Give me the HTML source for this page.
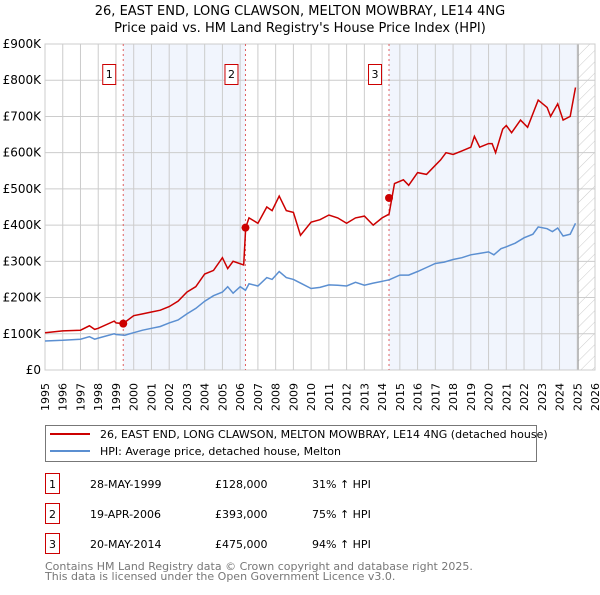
<!DOCTYPE html>
<html><head><meta charset="utf-8"><style>
body{margin:0;background:#fff;}
svg text{font-family:"DejaVu Sans","Liberation Sans",sans-serif;}
</style></head><body>
<svg id="c" width="600" height="590" xmlns="http://www.w3.org/2000/svg">
<defs><pattern id="hatch" width="8" height="8" patternUnits="userSpaceOnUse" patternTransform="rotate(45)"><line x1="0" y1="0" x2="0" y2="8" stroke="#ccc" stroke-width="1"/></pattern></defs>
<text x="300" y="15" text-anchor="middle" font-size="13">26, EAST END, LONG CLAWSON, MELTON MOWBRAY, LE14 4NG</text>
<text x="300" y="32" text-anchor="middle" font-size="13">Price paid vs. HM Land Registry's House Price Index (HPI)</text>
<g id="plot"></g>
<g>
<rect x="45.5" y="425.5" width="491" height="36" fill="#fff" stroke="#777"/>
<line x1="50" y1="434" x2="90" y2="434" stroke="#cc0000" stroke-width="2"/>
<text x="100" y="438" font-size="11">26, EAST END, LONG CLAWSON, MELTON MOWBRAY, LE14 4NG (detached house)</text>
<line x1="50" y1="451" x2="90" y2="451" stroke="#5b8fd1" stroke-width="2"/>
<text x="100" y="455" font-size="11">HPI: Average price, detached house, Melton</text>
</g>
<g id="table" font-size="11"></g>
<text x="45" y="570" font-size="11" fill="#777">Contains HM Land Registry data © Crown copyright and database right 2025.</text>
<text x="45" y="580" font-size="11" fill="#777">This data is licensed under the Open Government Licence v3.0.</text>
</svg>
<script>
const yTicks=[0,100,200,300,400,500,600,700,800,900];
const yTickLabels=["£0","£100K","£200K","£300K","£400K","£500K","£600K","£700K","£800K","£900K"];
const xYears=[1995,1996,1997,1998,1999,2000,2001,2002,2003,2004,2005,2006,2007,2008,2009,2010,2011,2012,2013,2014,2015,2016,2017,2018,2019,2020,2021,2022,2023,2024,2025,2026];
const hpiT=[1995,1996,1997,1997.5,1997.8,1998,1998.9,1999,1999.5,2000,2000.5,2001,2001.5,2002,2002.5,2003,2003.5,2004,2004.5,2005,2005.3,2005.6,2006,2006.3,2006.5,2007,2007.5,2007.8,2008.2,2008.6,2009,2009.4,2010,2010.5,2011,2011.5,2012,2012.5,2013,2013.5,2014,2014.4,2015,2015.5,2016,2016.5,2017,2017.5,2018,2018.5,2019,2019.5,2020,2020.3,2020.7,2021,2021.5,2022,2022.5,2022.8,2023.3,2023.6,2023.9,2024.2,2024.6,2024.9];
const hpiV=[80,82,85,92,85,88,100,98,96,103,110,115,120,130,138,155,170,190,205,215,230,212,230,220,238,232,255,250,272,255,250,240,225,228,235,234,232,242,234,240,245,249,262,262,272,283,294,298,305,310,318,322,326,318,335,340,350,365,375,395,390,382,392,370,375,405];
const redT=[1995,1996,1997,1997.5,1997.8,1998,1998.9,1999,1999.4,2000,2000.5,2001,2001.5,2002,2002.5,2003,2003.5,2004,2004.5,2005,2005.3,2005.6,2006.2,2006.31,2006.5,2007,2007.5,2007.8,2008.2,2008.6,2009,2009.4,2010,2010.5,2011,2011.5,2012,2012.5,2013,2013.5,2014,2014.39,2014.7,2015.2,2015.5,2016,2016.5,2017,2017.3,2017.6,2018,2018.5,2019,2019.2,2019.5,2020,2020.2,2020.4,2020.8,2021,2021.3,2021.8,2022.2,2022.8,2023.3,2023.5,2023.9,2024.2,2024.6,2024.9];
const redV=[103,108,110,122,112,115,135,130,128,150,155,160,165,175,190,215,230,265,275,310,280,300,290,393,420,405,450,440,480,440,435,372,408,415,428,420,405,420,425,400,420,430,515,525,510,545,540,565,580,600,595,605,615,645,615,625,625,600,665,675,655,690,670,745,725,700,735,690,700,780];
const salesT=[1999.41,2006.3,2014.39];
const salesV=[128,393,475];
const salesLabels=["1","2","3"];
const salesDates=["28-MAY-1999","19-APR-2006","20-MAY-2014"];
const salesPrices=["£128,000","£393,000","£475,000"];
const salesPct=["31% ↑ HPI","75% ↑ HPI","94% ↑ HPI"];

const NS="http://www.w3.org/2000/svg";
const X0=45,X1=595,Y0=370,Y1=44;
const xs=t=>X0+(t-1995)/(2026-1995)*(X1-X0);
const ys=v=>Y0-v/900*(Y0-Y1);
const plot=document.getElementById('plot');
function mk(tag,at,parent){const e=document.createElementNS(NS,tag);for(const k in at)e.setAttribute(k,at[k]);(parent||plot).appendChild(e);return e;}

let r=mk('rect',{x:xs(1999.41),y:Y1,width:xs(2006.3)-xs(1999.41),height:Y0-Y1,fill:'#eef3fc',opacity:0.8});


r=mk('rect',{x:xs(2014.39),y:Y1,width:xs(2025.05)-xs(2014.39),height:Y0-Y1,fill:'#eef3fc',opacity:0.8});


r=mk('rect',{x:xs(2025.05),y:Y1,width:X1-xs(2025.05),height:Y0-Y1,fill:'url(#hatch)'});



yTicks.forEach((v,i)=>{
 const l=mk('line',{x1:X0,x2:X1,y1:ys(v),y2:ys(v),stroke:'#ccc','stroke-width':1});
 
 
 const t=mk('text',{x:41,y:ys(v)+4,'text-anchor':'end','font-size':12});
 
 
 t.textContent=yTickLabels[i];
});
xYears.forEach(y=>{
 const l=mk('line',{x1:xs(y),x2:xs(y),y1:Y1,y2:Y0,stroke:'#ccc','stroke-width':1});
 
 
 const t=mk('text',{x:xs(y)+4,y:383,'text-anchor':'end','font-size':11,transform:`rotate(-90 ${xs(y)+4} 383)`});
 
 
 t.textContent=y;
});
const edge=mk('line',{x1:xs(2025.05),x2:xs(2025.05),y1:Y1,y2:Y0,stroke:'#999','stroke-width':1});


const fr=mk('rect',{x:X0,y:Y1,width:X1-X0,height:Y0-Y1,fill:'none',stroke:'#ccc'});



salesT.forEach((t,i)=>{
 const l=mk('line',{x1:xs(t),x2:xs(t),y1:Y1,y2:Y0,stroke:'#e06060','stroke-width':1,'stroke-dasharray':'2,3'});
 
 
 const b=mk('rect',{x:xs(t)-20.5,y:64.5,width:13,height:20,fill:'#fff',stroke:'#cc0000'});
 
 
 const tx=mk('text',{x:xs(t)-14,y:78,'text-anchor':'middle','font-size':11});
 
 
 tx.textContent=salesLabels[i];
});

const hp=mk('path',{d:hpiT.map((t,i)=>(i?'L':'M')+xs(t).toFixed(1)+','+ys(hpiV[i]).toFixed(1)).join(''),fill:'none',stroke:'#5b8fd1','stroke-width':1.5});


const rp=mk('path',{d:redT.map((t,i)=>(i?'L':'M')+xs(t).toFixed(1)+','+ys(redV[i]).toFixed(1)).join(''),fill:'none',stroke:'#cc0000','stroke-width':1.5});


salesT.forEach((t,i)=>{
 const c=mk('circle',{cx:xs(t),cy:ys(salesV[i]),r:4,fill:'#cc0000'});
 
 
});

const tb=document.getElementById('table');
salesT.forEach((t,i)=>{
 const y=487+i*30;
 const b=mk('rect',{x:45.5,y:y-13.5,width:14,height:20,fill:'#fff',stroke:'#cc0000'},tb);
 
 
 const a=mk('text',{x:52.5,y:y+1,'text-anchor':'middle'},tb);
 
 
 a.textContent=salesLabels[i];
 const d=mk('text',{x:90,y:y+1},tb);
 
 
 d.textContent=salesDates[i];
 const p=mk('text',{x:215,y:y+1},tb);
 
 
 p.textContent=salesPrices[i];
 const q=mk('text',{x:312,y:y+1},tb);
 
 
 q.textContent=salesPct[i];
});
</script>
</body></html>
